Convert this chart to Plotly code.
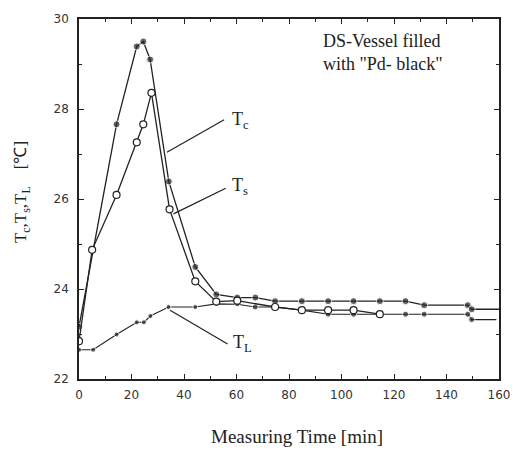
import plotly.graph_objects as go

# Measuring time [min] and temperatures [°C]
tc_time = [0, 14.3, 22.0, 24.5, 27.1, 34.2, 44.3, 52.3, 60.3, 67.2, 74.7, 84.9, 94.9, 104.6, 114.6, 124.4, 131.5, 148.1, 149.6, 160]
tc_vals = [23.16, 27.66, 29.39, 29.50, 29.10, 26.39, 24.49, 23.88, 23.81, 23.81, 23.73, 23.73, 23.73, 23.73, 23.73, 23.73, 23.64, 23.64, 23.55, 23.55]

ts_time = [0, 5.0, 14.3, 22.0, 24.5, 27.6, 34.5, 44.3, 52.3, 60.3, 74.7, 84.9, 94.9, 104.6, 114.6]
ts_vals = [22.84, 24.87, 26.09, 27.26, 27.66, 28.36, 25.77, 24.17, 23.72, 23.74, 23.60, 23.53, 23.53, 23.53, 23.44]

tl_time = [0, 5.4, 14.3, 22.0, 24.7, 27.2, 34.1, 44.3, 52.3, 60.3, 67.1, 74.7, 84.9, 94.9, 104.6, 114.6, 124.4, 131.5, 148.1, 149.6, 159.0]
tl_vals = [22.65, 22.65, 22.99, 23.26, 23.26, 23.40, 23.60, 23.60, 23.67, 23.66, 23.60, 23.60, 23.53, 23.44, 23.44, 23.44, 23.44, 23.44, 23.44, 23.32, 23.32]

x_ticks = [0, 20, 40, 60, 80, 100, 120, 140, 160]
y_ticks = [22, 24, 26, 28, 30]

# label texts with leader lines: (text, leader start x, y, leader end x, y, text x, y)
labels = [
    ("T<sub>c</sub>", 33.5, 27.04, 55.3, 27.76, 57.7, 27.75),
    ("T<sub>s</sub>", 36.0, 25.67, 55.9, 26.24, 57.6, 26.28),
    ("T<sub>L</sub>", 34.7, 23.53, 56.6, 22.78, 57.8, 22.78),
]

fig = go.Figure()

tc_sizes = [7] * (len(tc_time) - 1) + [0]
fig.add_trace(go.Scatter(x=tc_time, y=tc_vals, mode="lines+markers",
                         line=dict(color="#222", width=1.3),
                         marker=dict(symbol="circle", size=tc_sizes, color="#222"),
                         name="Tc", showlegend=False))
tl_sizes = [5] * 10 + [6] * (len(tl_time) - 11) + [0]
fig.add_trace(go.Scatter(x=tl_time, y=tl_vals, mode="lines+markers",
                         line=dict(color="#222", width=1.1),
                         marker=dict(symbol="circle", size=tl_sizes, color="#222"),
                         name="TL", showlegend=False))
fig.add_trace(go.Scatter(x=ts_time, y=ts_vals, mode="lines+markers",
                         line=dict(color="#222", width=1.3),
                         marker=dict(symbol="circle", size=7, color="white",
                                     line=dict(color="#222", width=1.2)),
                         name="Ts", showlegend=False))

serif = "Liberation Serif, Times New Roman, serif"
for text, x0, y0, x1, y1, tx, ty in labels:
    fig.add_shape(type="line", x0=x0, y0=y0, x1=x1, y1=y1, xref="x", yref="y",
                  line=dict(color="#222", width=1.2))
    fig.add_annotation(x=tx, y=ty, text=text, showarrow=False, xanchor="left",
                       yanchor="middle", font=dict(family=serif, size=18, color="#222"))

fig.add_annotation(x=92, y=29.78, text="DS-Vessel filled<br>with \"Pd- black\"",
                   showarrow=False, xanchor="left", yanchor="top", align="left",
                   font=dict(family=serif, size=18, color="#222"))

fig.add_annotation(xref="paper", yref="paper", x=0.52, y=-0.16,
                   text="Measuring Time [min]", showarrow=False,
                   xanchor="center", yanchor="middle",
                   font=dict(family=serif, size=19, color="#222"))
fig.add_annotation(xref="paper", yref="paper", x=-0.135, y=0.52,
                   text="T<sub>c</sub>,T<sub>s</sub>,T<sub>L</sub>    [℃]", showarrow=False,
                   textangle=-90, xanchor="center", yanchor="middle",
                   font=dict(family=serif, size=17, color="#222"))

tickfont = dict(family="DejaVu Sans", size=12, color="#333")
fig.update_xaxes(range=[0, 160], tickvals=x_ticks, ticktext=[str(v) for v in x_ticks],
                 showgrid=False, zeroline=False, showline=True, linecolor="#222",
                 linewidth=1.5, mirror="ticks", ticks="inside", ticklen=5,
                 tickcolor="#222", tickfont=tickfont, ticklabelstandoff=4,
                 minor=dict(ticks="inside", ticklen=3, dtick=10, tickcolor="#222"))
fig.update_yaxes(range=[22, 30], tickvals=y_ticks, ticktext=[str(v) for v in y_ticks],
                 showgrid=False, zeroline=False, showline=True, linecolor="#222",
                 linewidth=1.5, mirror="ticks", ticks="inside", ticklen=5,
                 tickcolor="#222", tickfont=tickfont, ticklabelstandoff=6,
                 minor=dict(ticks="inside", ticklen=3, dtick=1, tickcolor="#222"))

fig.update_layout(width=522, height=451, margin=dict(l=79, r=16, t=14, b=72),
                  plot_bgcolor="white", paper_bgcolor="white")

fig.write_html("out.html")
